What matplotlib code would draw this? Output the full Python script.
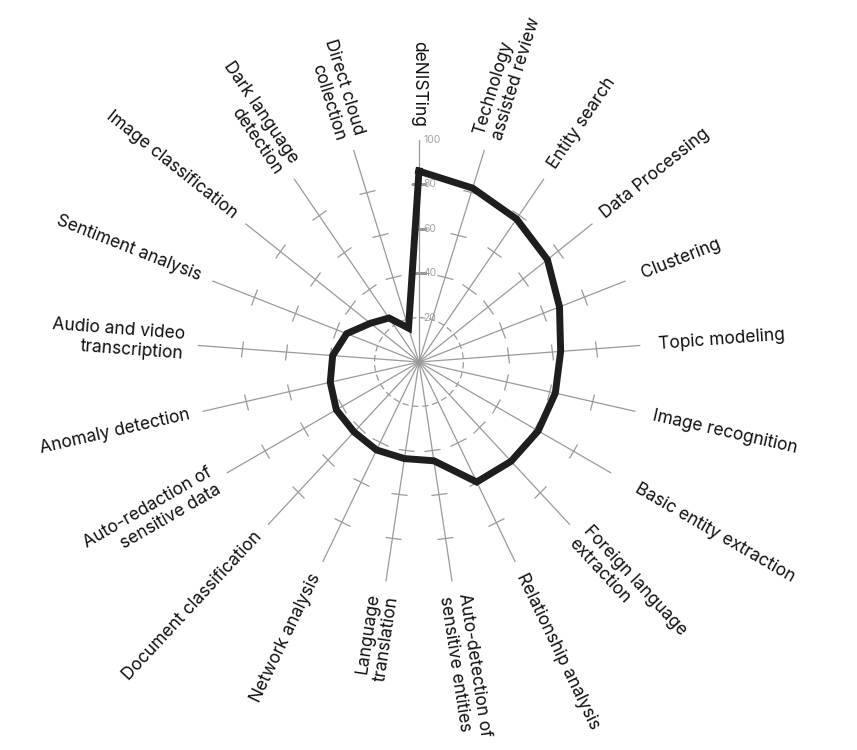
import numpy as np
import matplotlib
matplotlib.use('Agg')
from matplotlib import pyplot as plt
from matplotlib.markers import MarkerStyle
from matplotlib.transforms import Affine2D

plt.rcParams['font.family'] = ['Inter', 'DejaVu Sans']

labels = ['deNISTing', 'Technology\nassisted review', 'Entity search', 'Data Processing',
          'Clustering', 'Topic modeling', 'Image recognition', 'Basic entity extraction',
          'Foreign language\nextraction', 'Relationship analysis',
          'Auto-detection of\nsensitive entities', 'Language\ntranslation',
          'Network analysis', 'Document classification', 'Auto-redaction of\nsensitive data',
          'Anomaly detection', 'Audio and video\ntranscription', 'Sentiment analysis',
          'Image classification', 'Dark language\ndetection', 'Direct cloud\ncollection']
values = [86, 82, 78, 74, 68, 64, 63, 62, 61, 60, 45, 44, 44, 43, 43, 41, 39, 35, 28, 24, 16]
scale_ticks = [20, 40, 60, 80, 100]
spoke_ticks = [40, 60, 80]

n = len(labels)
angles = np.linspace(0, 2 * np.pi, n, endpoint=False)

fig = plt.figure(figsize=(8.57, 7.5), dpi=100)
ax = fig.add_axes([0.2299, 0.2213, 0.518, 0.592], projection='polar')
ax.set_theta_zero_location('N')
ax.set_theta_direction(-1)
ax.set_ylim(0, 100)
ax.spines['polar'].set_visible(False)

# spokes
ax.set_xticks(angles)
ax.set_xticklabels([])
ax.xaxis.grid(True, color='#9a9a9a', lw=0.9)
ax.tick_params(axis='x', length=0)
# dashed ring at 20
ax.set_yticks([20])
ax.set_yticklabels([])
ax.yaxis.grid(True, color='#9a9a9a', lw=0.9, ls=(0, (5, 3)))

# small cross ticks on every spoke
for a in angles:
    m = MarkerStyle('_', transform=Affine2D().rotate_deg(-np.degrees(a)))
    ax.plot([a] * len(spoke_ticks), spoke_ticks, ls='none', marker=m, ms=12,
            mew=0.9, color='#9a9a9a')

# scale labels on the first spoke
for v in scale_ticks:
    ax.annotate(str(v), xy=(0, v), xytext=(3, 0), textcoords='offset points',
                ha='left', va='center', fontsize=7.5, color='#aa9ea6')

# data polygon
ax.plot(np.append(angles, angles[0]), values + values[:1], color='#1e1e1e', lw=5,
        solid_joinstyle='miter', zorder=5)

# category labels
extra_pad = {'Basic entity extraction': 7, 'Clustering': 2, 'Topic modeling': 2,
             'Image recognition': 2}
for a, lab in zip(angles, labels):
    deg = np.degrees(a)
    if 0 < deg < 180:
        rot, ha = 90 - deg, 'left'
    else:
        rot, ha = 270 - deg, 'right'
    ax.text(a, 106 + extra_pad.get(lab, 0), lab, rotation=rot, rotation_mode='anchor',
            ha=ha, va='center', fontsize=12.5, color='#111111')

fig.savefig('out.png', dpi=100, facecolor='white')
